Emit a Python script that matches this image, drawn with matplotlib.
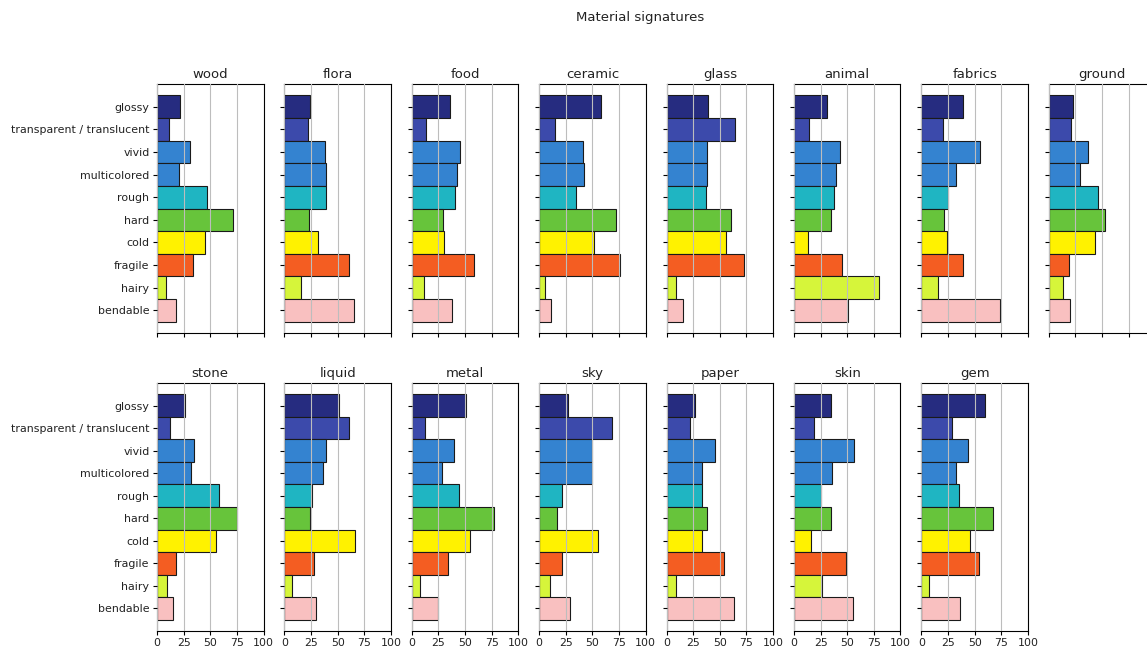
import matplotlib
matplotlib.use("Agg")
import matplotlib.pyplot as plt

# attribute categories (top to bottom)
attributes = ["glossy", "transparent / translucent", "vivid", "multicolored",
              "rough", "hard", "cold", "fragile", "hairy", "bendable"]
attr_colors = ["#262c80", "#3c4aab", "#3483d0", "#3483d0", "#1fb5c2",
               "#67c43b", "#fff200", "#f45d22", "#d6f53a", "#f9c0c0"]

# percent of images with each attribute, per material
wood = [22, 11.5, 31, 20.5, 47, 71, 45, 34, 8, 18]
flora = [24, 22, 38, 39, 39, 23, 31.5, 61, 15.5, 65.5]
food = [36, 13, 45.5, 42, 41, 29.5, 30.5, 58, 11.5, 38]
ceramic = [58, 14.5, 41, 42, 34.5, 72.5, 51.5, 76, 5.5, 11.5]
glass = [38.5, 64.5, 38, 38, 37, 60, 55.5, 73, 8.5, 15]
animal = [31, 14, 43, 39, 38, 34.5, 13.5, 45.5, 80, 50.5]
fabrics = [39, 20, 55, 32.5, 25, 21, 24, 39, 15.5, 74]
ground = [22.5, 21, 37, 29.5, 46.5, 53, 43, 18.5, 13.5, 20]
stone = [26.5, 12.5, 35, 32, 58, 75, 55, 18, 9.5, 15]
liquid = [51, 60.5, 39, 36, 26, 24, 66, 27.5, 7, 30]
metal = [51, 12.5, 40, 28, 44.5, 77.5, 54.5, 34, 7.5, 24.5]
sky = [27.5, 68, 49.5, 49.5, 21, 16.5, 55, 21, 10.5, 28.5]
paper = [26.5, 22, 45.5, 33.5, 33.5, 38, 33.5, 54, 9, 63.5]
skin = [35, 19, 56, 36, 25.5, 35, 16, 49, 26, 55]
gem = [60, 28.5, 44, 32.5, 35.5, 67.5, 46, 54, 7, 36]

materials = ["wood", "flora", "food", "ceramic", "glass", "animal", "fabrics", "ground",
             "stone", "liquid", "metal", "sky", "paper", "skin", "gem"]
values = [wood, flora, food, ceramic, glass, animal, fabrics, ground,
          stone, liquid, metal, sky, paper, skin, gem]

W, H = 1147, 649
fig = plt.figure(figsize=(W / 72, H / 72), dpi=72)
fig.text(640 / W, 1 - 18 / H, "Material signatures", ha="center", va="center",
         fontsize=13.3, color="#222222")

# layout in pixels (the right-most column runs past the figure edge)
col_left = [157 + 127.4 * i for i in range(8)]
ax_w = 106.5
rows = [(84, 333), (383, 631)]

ypos = list(range(len(attributes)))[::-1]
ref = None
for i, (name, vals) in enumerate(zip(materials, values)):
    r, c = divmod(i, 8)
    top, bot = rows[r]
    rect = [col_left[c] / W, 1 - bot / H, ax_w / W, (bot - top) / H]
    ax = fig.add_axes(rect, sharex=ref, sharey=ref)
    if ref is None:
        ref = ax
    ax.barh(ypos, vals, height=1.0, color=attr_colors, edgecolor="#1a1a1a", linewidth=1.1)
    ax.set_xlim(0, 100)
    ax.set_xticks([0, 25, 50, 75, 100])
    ax.set_yticks(ypos)
    ax.set_yticklabels(attributes)
    ax.set_axisbelow(False)
    ax.grid(axis="x", color="#bdbdbd", linewidth=1.1)
    ax.set_title(name, fontsize=13.3, color="#222222")
    for s in ax.spines.values():
        s.set_linewidth(1.1)
    if c != 0:
        ax.tick_params(axis="y", labelleft=False)
    if r == 0:
        ax.tick_params(axis="x", labelbottom=False)
    ax.tick_params(labelsize=11, labelcolor="#222222", width=1.1, length=4)

fig.savefig("out.png", dpi=72)
